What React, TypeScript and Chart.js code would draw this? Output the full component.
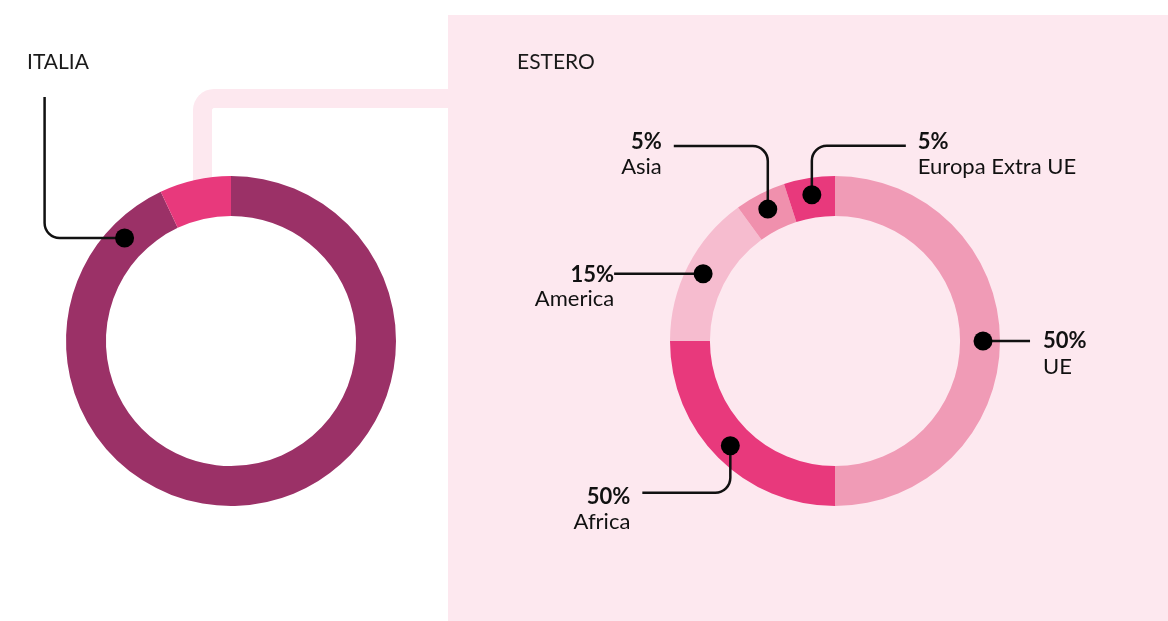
import React, { useEffect, useRef } from "react";
import { Chart, registerables } from "chart.js";

Chart.register(...registerables);

// ---- Data ----
const italiaTitle = "ITALIA";
const italiaCategories = ["Italia", "Estero"];
const italiaValues = [93, 7];
const italiaColors = ["#9b3167", "#e8397c"];

const esteroTitle = "ESTERO";
const esteroCategories = ["UE", "Africa", "America", "Asia", "Europa Extra UE"];
const esteroValues = [50, 25, 15, 5, 5];
const esteroPercentLabels = ["50%", "50%", "15%", "5%", "5%"];
const esteroColors = ["#f09bb6", "#e8397c", "#f6bccf", "#f090ad", "#e8397c"];

const PANEL_PINK = "#fde8ef";
const FONT = "Lato, 'Open Sans', sans-serif";

type Callout = {
  index: number;
  frac: number;
  route: [number, number][];
  pct?: string;
  name?: string;
  align?: "left" | "right";
  dx?: number;
  pctDy?: number;
  nameDy?: number;
};

const calloutPlugin = {
  id: "callouts",
  afterDatasetsDraw(chart: any, _args: any, opts: any) {
    const ctx: CanvasRenderingContext2D = chart.ctx;
    const meta = chart.getDatasetMeta(0);
    ctx.save();
    if (opts.title) {
      ctx.font = `21px ${FONT}`;
      ctx.fillStyle = "#1a1a1a";
      ctx.textAlign = "left";
      ctx.textBaseline = "alphabetic";
      ctx.fillText(opts.title, opts.titleX, opts.titleY);
    }
    (opts.items as Callout[]).forEach((item) => {
      const arc = meta.data[item.index];
      if (!arc) return;
      const p = arc.getProps(["x", "y", "startAngle", "endAngle", "innerRadius", "outerRadius"], true);
      const a = p.startAngle + (p.endAngle - p.startAngle) * item.frac;
      const r = p.innerRadius + (p.outerRadius - p.innerRadius) * 0.575;
      const px = p.x + Math.cos(a) * r;
      const py = p.y + Math.sin(a) * r;
      const pts: [number, number][] = [[px, py]];
      let cx = px;
      let cy = py;
      item.route.forEach(([dx, dy]) => {
        cx += dx;
        cy += dy;
        pts.push([cx, cy]);
      });
      ctx.strokeStyle = "#111";
      ctx.lineWidth = 2.5;
      ctx.lineJoin = "round";
      ctx.beginPath();
      ctx.moveTo(pts[0][0], pts[0][1]);
      for (let i = 1; i < pts.length - 1; i++) {
        ctx.arcTo(pts[i][0], pts[i][1], pts[i + 1][0], pts[i + 1][1], 15);
      }
      const last = pts[pts.length - 1];
      ctx.lineTo(last[0], last[1]);
      ctx.stroke();
      ctx.beginPath();
      ctx.arc(px, py, 9.5, 0, Math.PI * 2);
      ctx.fillStyle = "#000";
      ctx.fill();
      const tx = last[0] + (item.dx || 0);
      ctx.textAlign = item.align || "left";
      ctx.textBaseline = "alphabetic";
      ctx.fillStyle = "#111";
      if (item.pct) {
        ctx.font = `bold 22px ${FONT}`;
        ctx.fillText(item.pct, tx, last[1] + (item.pctDy || 0));
      }
      if (item.name) {
        ctx.font = `22px ${FONT}`;
        ctx.fillText(item.name, tx, last[1] + (item.nameDy || 0));
      }
    });
    ctx.restore();
  },
};

function Donut(props: {
  width: number;
  height: number;
  left: number;
  labels: string[];
  values: number[];
  colors: string[];
  padding: { left: number; right: number; top: number; bottom: number };
  callouts: Callout[];
  title: string;
  titleX: number;
  titleY: number;
}) {
  const ref = useRef<HTMLCanvasElement>(null);
  useEffect(() => {
    if (!ref.current) return;
    const chart = new Chart(ref.current, {
      type: "doughnut",
      data: {
        labels: props.labels,
        datasets: [
          {
            data: props.values,
            backgroundColor: props.colors,
            borderWidth: 0,
          },
        ],
      },
      options: {
        responsive: false,
        animation: false,
        devicePixelRatio: 1,
        cutout: "75.8%",
        layout: { padding: props.padding },
        plugins: {
          legend: { display: false },
          tooltip: { enabled: false },
          callouts: {
            items: props.callouts,
            title: props.title,
            titleX: props.titleX,
            titleY: props.titleY,
          },
        } as any,
      },
      plugins: [calloutPlugin],
    });
    return () => chart.destroy();
  }, []);
  return (
    <canvas
      ref={ref}
      width={props.width}
      height={props.height}
      style={{ position: "absolute", left: props.left, top: 0, width: props.width, height: props.height }}
    />
  );
}

const italiaCallouts: Callout[] = [
  { index: 0, frac: 0.938, route: [[-80, 0], [0, -141]] },
];

const esteroCallouts: Callout[] = [
  { index: 0, frac: 0.5, route: [[47, 0]], pct: esteroPercentLabels[0], name: esteroCategories[0], align: "left", dx: 13, pctDy: 7, nameDy: 33 },
  { index: 1, frac: 0.5, route: [[0, 47], [-88, 0]], pct: esteroPercentLabels[1], name: esteroCategories[1], align: "right", dx: -12, pctDy: 11, nameDy: 36 },
  { index: 2, frac: 0.5, route: [[-89, 0]], pct: esteroPercentLabels[2], name: esteroCategories[2], align: "right", dx: 0, pctDy: 8, nameDy: 32 },
  { index: 3, frac: 0.5, route: [[0, -63], [-94, 0]], pct: esteroPercentLabels[3], name: esteroCategories[3], align: "right", dx: -12, pctDy: 3, nameDy: 28 },
  { index: 4, frac: 0.5, route: [[0, -49], [94, 0]], pct: esteroPercentLabels[4], name: esteroCategories[4], align: "left", dx: 12, pctDy: 3, nameDy: 28 },
];

export default function App() {
  return (
    <div
      style={{
        position: "absolute",
        left: 0,
        top: 0,
        width: 1168,
        height: 621,
        overflow: "hidden",
        background: "#ffffff",
        fontFamily: FONT,
      }}
    >
      <div
        style={{
          position: "absolute",
          left: 193,
          top: 89,
          width: 300,
          height: 100,
          boxSizing: "border-box",
          borderTop: `19px solid ${PANEL_PINK}`,
          borderLeft: `19px solid ${PANEL_PINK}`,
          borderTopLeftRadius: 21,
        }}
      />
      <div
        style={{
          position: "absolute",
          left: 448,
          top: 15,
          width: 720,
          height: 606,
          background: PANEL_PINK,
        }}
      />
      <Donut
        width={448}
        height={621}
        left={0}
        labels={italiaCategories}
        values={italiaValues}
        colors={italiaColors}
        padding={{ left: 66, right: 52, top: 176, bottom: 115 }}
        callouts={italiaCallouts}
        title={italiaTitle}
        titleX={27}
        titleY={69}
      />
      <Donut
        width={720}
        height={621}
        left={448}
        labels={esteroCategories}
        values={esteroValues}
        colors={esteroColors}
        padding={{ left: 222, right: 168, top: 176, bottom: 115 }}
        callouts={esteroCallouts}
        title={esteroTitle}
        titleX={69}
        titleY={69}
      />
    </div>
  );
}
